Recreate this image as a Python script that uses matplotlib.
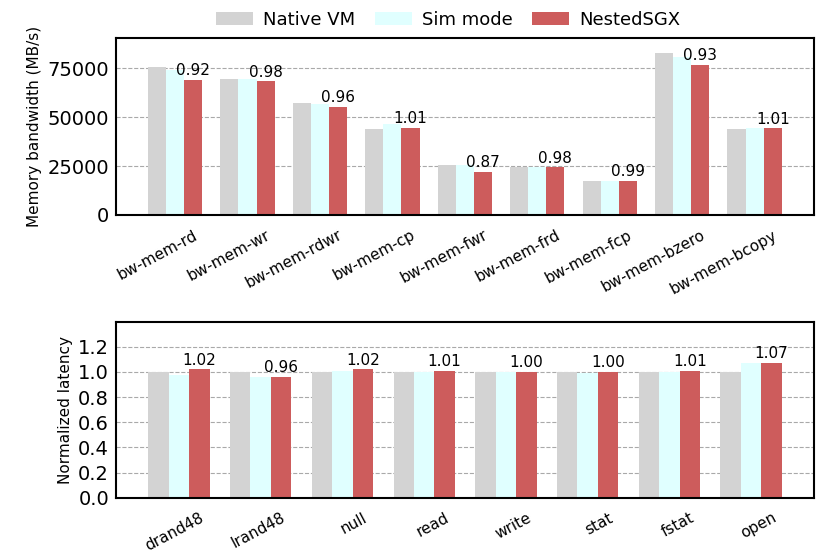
import matplotlib
matplotlib.use('Agg')
import matplotlib.pyplot as plt
import numpy as np

# memory bandwidth (MB/s)
mem_names = ['bw-mem-rd', 'bw-mem-wr', 'bw-mem-rdwr', 'bw-mem-cp', 'bw-mem-fwr',
             'bw-mem-frd', 'bw-mem-fcp', 'bw-mem-bzero', 'bw-mem-bcopy']
mem_native = [75600, 69700, 57500, 44200, 25500, 24800, 17500, 82800, 43900]
mem_sim = [74300, 69700, 57000, 46400, 25500, 24800, 17500, 80800, 44400]
mem_nested = [69300, 68400, 55200, 44700, 22200, 24400, 17300, 77000, 44300]
mem_ratio = ['0.92', '0.98', '0.96', '1.01', '0.87', '0.98', '0.99', '0.93', '1.01']

# normalized latency
lat_names = ['drand48', 'lrand48', 'null', 'read', 'write', 'stat', 'fstat', 'open']
lat_native = [1.0, 1.0, 1.0, 1.0, 1.0, 1.0, 1.0, 1.0]
lat_sim = [0.975, 0.958, 1.005, 1.0, 1.0, 0.995, 1.0, 1.068]
lat_nested = [1.02, 0.96, 1.02, 1.01, 1.00, 1.00, 1.01, 1.07]
lat_ratio = ['1.02', '0.96', '1.02', '1.01', '1.00', '1.00', '1.01', '1.07']

labels = ['Native VM', 'Sim mode', 'NestedSGX']
colors = ['lightgray', 'lightcyan', 'indianred']
w = 0.25

fig = plt.figure(figsize=(8.3, 5.54), dpi=100)
ax1 = fig.add_axes([0.1398, 0.612, 0.841, 0.319])
ax2 = fig.add_axes([0.1398, 0.1016, 0.841, 0.3177])


def draw(ax, names, series, ratio, ylim, yticks, ylabel, xlim):
    x = np.arange(len(names))
    bars = []
    for i, s in enumerate(series):
        b = ax.bar(x + (i - 1) * w, s, w, color=colors[i], linewidth=0,
                   label=labels[i], zorder=3)
        bars.append(b)
    for xi, v, r in zip(x, series[2], ratio):
        ax.text(xi + w, v + ylim[1] * 0.01, r, ha='center', va='bottom', fontsize=11, zorder=4)
    ax.set_xlim(*xlim)
    ax.set_ylim(*ylim)
    ax.set_yticks(yticks)
    # labels sit under the NestedSGX bar
    ax.set_xticks(x + w)
    ax.set_xticklabels(names, rotation=28, ha='right', rotation_mode='anchor', fontsize=11)
    ax.tick_params(axis='y', direction='in', length=0, labelsize=14, pad=5)
    ax.tick_params(axis='x', direction='in', length=0, pad=9)
    ax.set_ylabel(ylabel, fontsize=11)
    ax.yaxis.grid(True, linestyle='--', color='darkgray', linewidth=0.8, zorder=0)
    ax.set_axisbelow(True)
    for sp in ax.spines.values():
        sp.set_linewidth(1.5)
        sp.set_zorder(5)
    return bars


bars = draw(ax1, mem_names, [mem_native, mem_sim, mem_nested], mem_ratio,
            (0, 90500), [0, 25000, 50000, 75000], 'Memory bandwidth (MB/s)', (-0.815, 8.82))
draw(ax2, lat_names, [lat_native, lat_sim, lat_nested], lat_ratio,
     (0, 1.4), [0.0, 0.2, 0.4, 0.6, 0.8, 1.0, 1.2], 'Normalized latency', (-0.77, 7.77))
ax2.yaxis.set_major_formatter(matplotlib.ticker.FormatStrFormatter('%.1f'))

fig.legend(handles=bars, labels=labels, loc='upper center', bbox_to_anchor=(0.54, 1.01),
           ncol=3, frameon=False, fontsize=13, handlelength=2.05, handletextpad=0.55,
           columnspacing=1.1)

fig.savefig('out.png', dpi=100)
